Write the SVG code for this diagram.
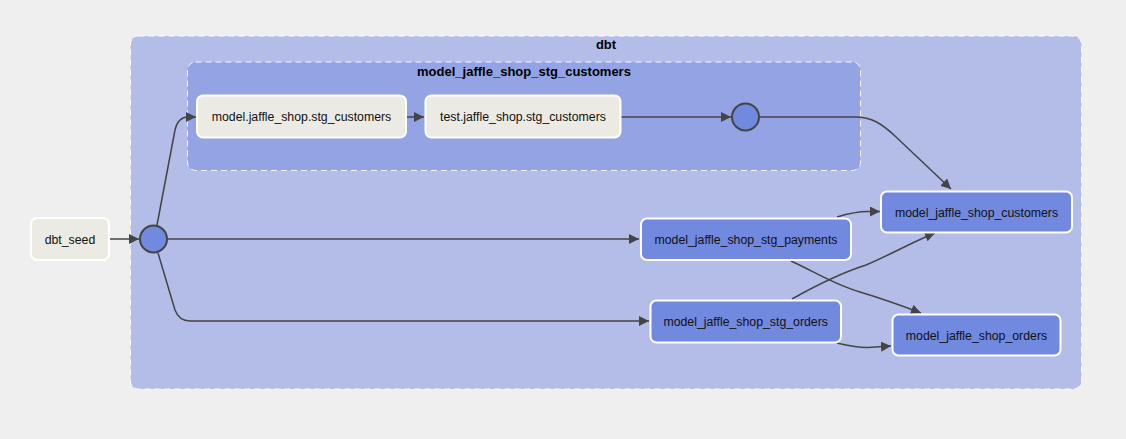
<svg xmlns="http://www.w3.org/2000/svg" width="1126" height="439" viewBox="0 0 1126 439">
<defs>
<marker id="arr" viewBox="0 0 10 10" refX="10" refY="5" markerWidth="10" markerHeight="10" markerUnits="userSpaceOnUse" orient="auto">
<path d="M0,0 L10,5 L0,10 z" fill="#444"/>
</marker>
<style>
.cl-outer{fill:#b0bbe8;stroke:#fff;stroke-width:1;stroke-dasharray:6,4;opacity:0.95}
.cl-inner{fill:#91a1e4;stroke:#fff;stroke-width:1;stroke-dasharray:6,4;opacity:0.9}
.nl{fill:#ebebe3;stroke:#fff;stroke-width:2}
.nb{fill:#7289e0;stroke:#fff;stroke-width:2}
.circ{fill:#7289e0;stroke:#444;stroke-width:2}
.t{font-family:"Liberation Sans",Arial,sans-serif;font-size:12.3px;fill:#111;text-anchor:middle}
.ct{font-family:"Liberation Sans",Arial,sans-serif;font-size:13px;font-weight:bold;fill:#000;text-anchor:middle}
.e{fill:none;stroke:#444;stroke-width:1.5;marker-end:url(#arr)}
</style>
</defs>
<rect width="1126" height="439" fill="#efefef"/>
<g id="cluster-dbt">
<rect class="cl-outer" x="130.5" y="36" width="951" height="353" rx="8"/>
<text class="ct" x="606" y="49">dbt</text>
</g>
<g id="cluster-stg-customers">
<rect class="cl-inner" x="187.5" y="62" width="673" height="108.5" rx="8"/>
<text class="ct" x="524" y="76">model_jaffle_shop_stg_customers</text>
</g>
<g id="connectors">
<path class="e" d="M109,239 L139,239"/>
<path class="e" d="M157,225 L175,130 Q178,117 188,117 L196,117"/>
<path class="e" d="M406,117 L424,117"/>
<path class="e" d="M621,117 L731,117"/>
<path class="e" d="M759,117 L855,117 C872,117 882,124 895,136 L951,189"/>
<path class="e" d="M167,239 L639,239"/>
<path class="e" d="M158,253 L175,310 Q179,321 190,321 L649,321"/>
<path class="e" d="M837,217 C850,213 858,211.5 868,211.5 L880,211.5"/>
<path class="e" d="M791,261 C815,272 835,285 860,292 C880,298 900,305 921,313"/>
<path class="e" d="M792,299 C815,286 838,274 866,265 C890,255 910,243 935,233"/>
<path class="e" d="M837,343 C850,346 858,348 868,347.5 L891,346"/>
</g>
<g id="node-dbt_seed">
<rect class="nl" x="31" y="218" width="78" height="42" rx="6"/>
<text class="t" x="70" y="243.5">dbt_seed</text>
</g>
<g id="node-hub1">
<circle class="circ" cx="153.5" cy="239" r="13.5"/>
</g>
<g id="node-model-stg_customers">
<rect class="nl" x="197" y="95.5" width="209" height="42" rx="6"/>
<text class="t" x="301.5" y="121">model.jaffle_shop.stg_customers</text>
</g>
<g id="node-test-stg_customers">
<rect class="nl" x="425.5" y="95.5" width="195" height="42" rx="6"/>
<text class="t" x="523" y="121">test.jaffle_shop.stg_customers</text>
</g>
<g id="node-hub2">
<circle class="circ" cx="745.5" cy="117" r="13.5"/>
</g>
<g id="node-customers">
<rect class="nb" x="881" y="191.5" width="191" height="41" rx="6"/>
<text class="t" x="976.5" y="216.5">model_jaffle_shop_customers</text>
</g>
<g id="node-stg_payments">
<rect class="nb" x="641" y="218.5" width="210" height="41.5" rx="6"/>
<text class="t" x="746" y="243.5">model_jaffle_shop_stg_payments</text>
</g>
<g id="node-stg_orders">
<rect class="nb" x="650.5" y="300.5" width="190.5" height="42" rx="6"/>
<text class="t" x="745.7" y="325.5">model_jaffle_shop_stg_orders</text>
</g>
<g id="node-orders">
<rect class="nb" x="892.5" y="314.5" width="168" height="41" rx="6"/>
<text class="t" x="976.5" y="339.5">model_jaffle_shop_orders</text>
</g>
</svg>
